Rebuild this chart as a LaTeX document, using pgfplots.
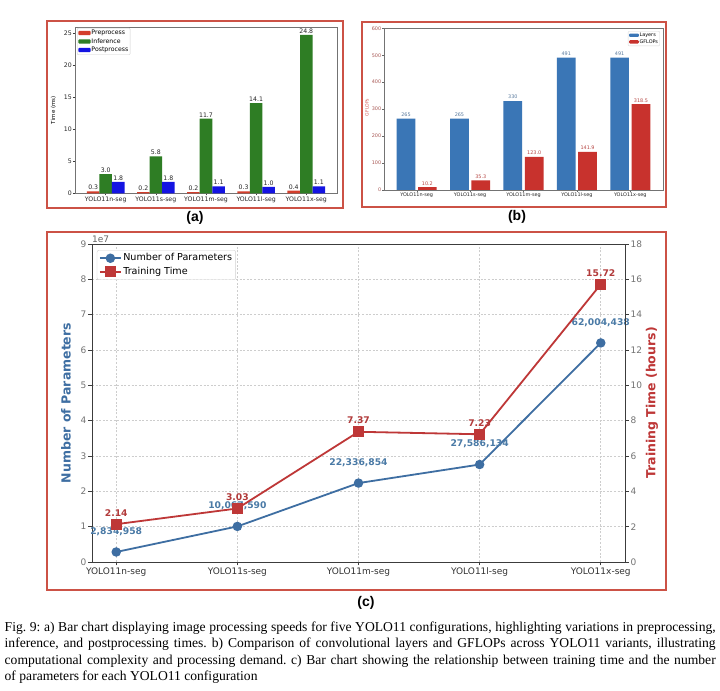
\documentclass[border=0pt]{standalone}
\usepackage{pgfplots}
\pgfplotsset{compat=1.18}
\usepackage{fontspec}
\setmainfont{Liberation Serif}
\setsansfont{Liberation Sans}
\newfontfamily\dv{DejaVu Sans}
\newcommand\fsz[1]{\fontsize{#1bp}{#1bp}\selectfont}
\frenchspacing

\definecolor{frameC}{RGB}{204,82,70}
\definecolor{preC}{RGB}{212,62,44}
\definecolor{infC}{RGB}{46,125,36}
\definecolor{postC}{RGB}{20,20,226}
\definecolor{layC}{RGB}{58,118,182}
\definecolor{gflC}{RGB}{200,50,45}
\definecolor{parC}{RGB}{62,110,162}
\definecolor{timC}{RGB}{190,55,55}
\definecolor{parT}{RGB}{74,122,166}
\definecolor{timT}{RGB}{178,59,59}
\definecolor{spine}{RGB}{60,60,60}
\definecolor{gridC}{RGB}{205,205,205}

\pgfplotsset{
  lega/.style={legend image code/.code={\fill[##1] (0bp,-2.15bp) rectangle (12.4bp,2.15bp);}},
  legb/.style={legend image code/.code={\fill[##1] (0bp,-1.7bp) rectangle (9.8bp,1.7bp);}},
  legc/.style={legend image code/.code={%
    \draw[mark repeat=2,mark phase=2,##1] plot coordinates {(0bp,0bp) (10.5bp,0bp) (21bp,0bp)};}},
}

\begin{document}
\begin{tikzpicture}
\useasboundingbox (0,0) rectangle (720bp,691bp);
\fill[white] (0,0) rectangle (720bp,691bp);

% ---------- (a) processing speed ----------
\begin{axis}[
  at={(75bp,497.7bp)}, anchor=south west, scale only axis,
  width=262bp, height=166.3bp,
  ybar=0pt, bar width=12.53bp,
  xmin=-0.6125, xmax=4.6125, ymin=0, ymax=26.04,
  xtick={0,1,2,3,4},
  xticklabels={YOLO11n-seg,YOLO11s-seg,YOLO11m-seg,YOLO11l-seg,YOLO11x-seg},
  ytick={0,5,10,15,20,25},
  tick pos=left, tick align=outside, major tick length=2bp,
  tick style={spine, line width=0.5bp},
  axis line style={black!55, line width=0.6bp},
  /pgf/number format/assume math mode=true,
  ticklabel style={font=\dv\fsz{6.2}, inner sep=1bp, text=black!85},
  ylabel={Time (ms)},
  ylabel style={font=\dv\fsz{5.5}, at={(axis description cs:-0.082,0.5)}, anchor=center},
  nodes near coords={\pgfmathprintnumber[fixed,fixed zerofill,precision=1]{\pgfplotspointmeta}},
  every node near coord/.append style={font=\dv\fsz{6.2}, inner sep=1.2bp, text=black!85},
  legend style={at={(0.008,0.994)}, anchor=north west, draw=black!18, rounded corners=1bp,
    fill=white, font=\dv\fsz{6.2}, inner sep=1bp, row sep=0.9bp,
    nodes={inner sep=0.8bp, text height=4.7bp, text depth=1.3bp}},
  legend cell align=left,
]
\addplot[fill=preC, draw=none, lega] coordinates {(0,0.3) (1,0.2) (2,0.2) (3,0.3) (4,0.4)};
\addplot[fill=infC, draw=none, lega] coordinates {(0,3.0) (1,5.8) (2,11.7) (3,14.1) (4,24.8)};
\addplot[fill=postC, draw=none, lega] coordinates {(0,1.8) (1,1.8) (2,1.1) (3,1.0) (4,1.1)};
\legend{Preprocess, Inference, Postprocess}
\end{axis}

% ---------- (b) layers and GFLOPs ----------
\begin{axis}[
  at={(384bp,501bp)}, anchor=south west, scale only axis,
  width=279bp, height=161.7bp,
  ybar=2.67bp, bar width=18.69bp,
  xmin=-0.6125, xmax=4.6125, ymin=0, ymax=600,
  xtick={0,1,2,3,4},
  xticklabels={YOLO11n-seg,YOLO11s-seg,YOLO11m-seg,YOLO11l-seg,YOLO11x-seg},
  ytick={0,100,200,300,400,500,600},
  tick pos=left, tick align=outside, major tick length=1.6bp,
  tick style={black!60, line width=0.4bp},
  axis line style={black!55, line width=0.6bp},
  /pgf/number format/assume math mode=true,
  ticklabel style={font=\dv\fsz{4.9}, inner sep=1bp, text=black!85},
  yticklabel style={text=gflC!55!gray},
  ylabel={GFLOPs},
  ylabel style={font=\dv\fsz{4.6}, text=gflC!80, at={(axis description cs:-0.061,0.51)}, anchor=center},
  every node near coord/.append style={font=\dv\fsz{4.9}, inner sep=1.8bp},
  legend style={at={(0.989,0.983)}, anchor=north east, draw=black!15, rounded corners=1bp,
    fill=white, font=\dv\fsz{4.9}, inner sep=1bp, row sep=0.5bp,
    nodes={inner sep=0.7bp, text height=3.7bp, text depth=1bp}},
  legend cell align=left,
]
\addplot[fill=layC, draw=none, legb,
  nodes near coords={\pgfmathprintnumber[fixed,precision=0]{\pgfplotspointmeta}},
  every node near coord/.append style={text=layC!55!gray}]
  coordinates {(0,265) (1,265) (2,330) (3,491) (4,491)};
\addplot[fill=gflC, draw=none, legb,
  nodes near coords={\pgfmathprintnumber[fixed,fixed zerofill,precision=1]{\pgfplotspointmeta}},
  every node near coord/.append style={text=gflC!75!gray}]
  coordinates {(0,10.2) (1,35.3) (2,123.0) (3,141.9) (4,318.5)};
\legend{Layers, GFLOPs}
\end{axis}

% ---------- (c) parameters and training time ----------
\begin{axis}[
  at={(92bp,129bp)}, anchor=south west, scale only axis,
  width=533bp, height=318bp,
  xmin=-0.2, xmax=4.2, ymin=0, ymax=90000000,
  xtick={0,1,2,3,4},
  xticklabels={YOLO11n-seg,YOLO11s-seg,YOLO11m-seg,YOLO11l-seg,YOLO11x-seg},
  ytick={0,10000000,20000000,30000000,40000000,50000000,60000000,70000000,80000000,90000000},
  scaled y ticks=base 10:-7,
  ytick scale label code/.code={1e7},
  every y tick scale label/.style={at={(rel axis cs:0,1)}, anchor=south west,
    inner sep=0pt, yshift=1.5bp, font=\dv\fsz{9}, text=black!60},
  grid=major, grid style={gridC, line width=0.6bp, dash pattern=on 2bp off 1.6bp},
  tick pos=left, tick align=outside, major tick length=3.5bp,
  tick style={spine, line width=0.7bp},
  axis line style={spine, line width=0.9bp},
  /pgf/number format/assume math mode=true,
  ticklabel style={font=\dv\fsz{9}, inner sep=2bp},
  xticklabel style={text=black!80},
  yticklabel style={text=black!55},
  ylabel={Number of Parameters},
  ylabel style={font=\dv\bfseries\fsz{12.5}, text=parC, at={(axis description cs:-0.0488,0.5)}, anchor=center},
  legend style={at={(0.009,0.981)}, anchor=north west, draw=black!18, rounded corners=2bp,
    fill=white, font=\dv\fsz{9.6}, inner sep=2bp, row sep=1.5bp,
    nodes={inner sep=1.5bp, text height=7bp, text depth=2bp}},
  legend cell align=left,
]
\addplot[parC, line width=1.8bp, mark=*, mark size=3.8bp, mark options={fill=parC, draw=parC}, legc,
  point meta=explicit symbolic, nodes near coords,
  every node near coord/.append style={font=\dv\bfseries\fsz{9.2}, text=parT, anchor=center, yshift=20.5bp}]
  table[x=x, y=y, meta=lab] {
  x y lab
  0 2834958 2,834,958
  1 10067590 10,067,590
  2 22336854 22,336,854
  3 27586134 27,586,134
  4 62004438 62,004,438
  };
\addlegendimage{timC, line width=1.8bp, mark=square*, mark size=4.5bp, mark options={fill=timC, draw=timC}, legc}
\legend{Number of Parameters, Training Time}
\end{axis}

\begin{axis}[
  at={(92bp,129bp)}, anchor=south west, scale only axis,
  width=533bp, height=318bp,
  xmin=-0.2, xmax=4.2, ymin=0, ymax=18,
  axis x line=none, axis y line*=right,
  ytick={0,2,4,6,8,10,12,14,16,18},
  tick align=outside, major tick length=3.5bp,
  tick style={spine, line width=0.7bp},
  axis line style={spine, line width=0.9bp},
  /pgf/number format/assume math mode=true,
  ticklabel style={font=\dv\fsz{9}, inner sep=2bp, text=black!55},
  ylabel={Training Time (hours)},
  ylabel style={font=\dv\bfseries\fsz{12.5}, text=timC, at={(axis description cs:1.0507,0.5)}, anchor=center},
]
\addplot[timC, line width=1.8bp, mark=square*, mark size=4.5bp, mark options={fill=timC, draw=timC},
  point meta=explicit symbolic, nodes near coords,
  every node near coord/.append style={font=\dv\bfseries\fsz{9.2}, text=timT, anchor=center, yshift=11.6bp}]
  table[x=x, y=y, meta=lab] {
  x y lab
  0 2.14 2.14
  1 3.03 3.03
  2 7.37 7.37
  3 7.23 7.23
  4 15.72 15.72
  };
\end{axis}

% ---------- frames and panel letters ----------
\draw[frameC, line width=2.5bp] (47bp,670bp) rectangle (343bp,483bp);
\draw[frameC, line width=2.5bp] (362bp,669bp) rectangle (666bp,484bp);
\draw[frameC, line width=2.5bp] (47bp,459bp) rectangle (666bp,101bp);
\node[font=\sffamily\bfseries\fsz{14}] at (195bp,473bp) {(a)};
\node[font=\sffamily\bfseries\fsz{14}] at (517bp,474bp) {(b)};
\node[font=\sffamily\bfseries\fsz{14}] at (366bp,88bp) {(c)};

% ---------- caption ----------
\node[anchor=north west, inner sep=0pt, text width=711bp, align=justify,
  font=\fontsize{13.6bp}{16.3bp}\selectfont] at (4.5bp,69.3bp)
 {Fig. 9: a) Bar chart displaying image processing speeds for five YOLO11 configurations, highlighting variations in preprocessing,\linebreak
 inference, and postprocessing times. b) Comparison of convolutional layers and GFLOPs across YOLO11 variants, illustrating\linebreak
 computational complexity and processing demand. c) Bar chart showing the relationship between training time and the number\linebreak
 of parameters for each YOLO11 configuration};
\end{tikzpicture}
\end{document}
